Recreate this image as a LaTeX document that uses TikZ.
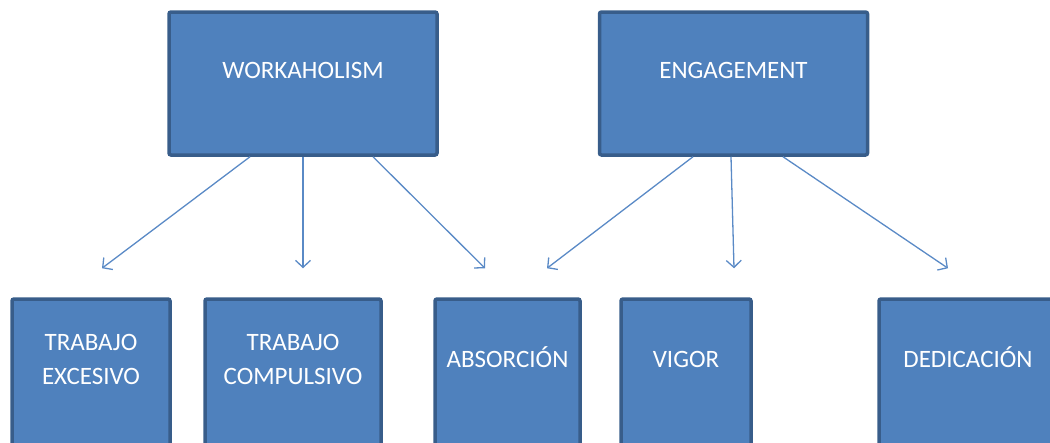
\documentclass[tikz,border=0pt]{standalone}
\usepackage{fontspec}
\setmainfont{Carlito}
\usetikzlibrary{arrows.meta}
\definecolor{boxfill}{HTML}{4F81BD}
\definecolor{boxline}{HTML}{385D8A}
\definecolor{linkcol}{HTML}{5A8AC6}
\begin{document}
\begin{tikzpicture}[x=1pt,y=-1pt]
\tikzstyle{box}=[draw=boxline,fill=boxfill,line width=3.5pt,rounded corners=2pt,text=white,align=center,inner sep=0pt,font=\fontsize{25pt}{34pt}\selectfont,text height=16pt]
\tikzstyle{topbox}=[box,minimum width=268pt,minimum height=143pt,text depth=27pt]
\tikzstyle{subbox}=[box,minimum height=169pt,text depth=49pt]
\tikzstyle{twoline}=[text depth=15pt]
\tikzstyle{link}=[draw=linkcol,line width=1.3pt,-{Straight Barb[length=7pt,width=15pt]}]
\clip (0,0) rectangle (1050,442);
\useasboundingbox (0,0) rectangle (1050,442);
\node[topbox] (work) at (303,83.5) {WORKAHOLISM};
\node[topbox] (eng) at (733.5,83.5) {ENGAGEMENT};
\node[subbox,twoline,minimum width=158pt] (exc) at (91,383.5) {TRABAJO\\EXCESIVO};
\node[subbox,twoline,minimum width=176pt] (comp) at (293,383.5) {TRABAJO\\COMPULSIVO};
\node[subbox,minimum width=145pt] (abs) at (507.5,383.5) {ABSORCIÓN};
\node[subbox,minimum width=130pt] (vig) at (686,383.5) {VIGOR};
\node[subbox,minimum width=178pt] (ded) at (968,383.5) {DEDICACIÓN};
\path[link] ([xshift=-53pt]work.south) -- ([xshift=11pt,yshift=29pt]exc.north);
\path[link] (work.south) -- ([xshift=10pt,yshift=29pt]comp.north);
\path[link] ([xshift=70pt]work.south) -- ([xshift=-22.5pt,yshift=29pt]abs.north);
\path[link] ([xshift=-40.5pt]eng.south) -- ([xshift=39.5pt,yshift=29pt]abs.north);
\path[link] ([xshift=-2.5pt]eng.south) -- ([xshift=48pt,yshift=29pt]vig.north);
\path[link] ([xshift=49.5pt]eng.south) -- ([xshift=-20pt,yshift=29pt]ded.north);
\end{tikzpicture}
\end{document}
